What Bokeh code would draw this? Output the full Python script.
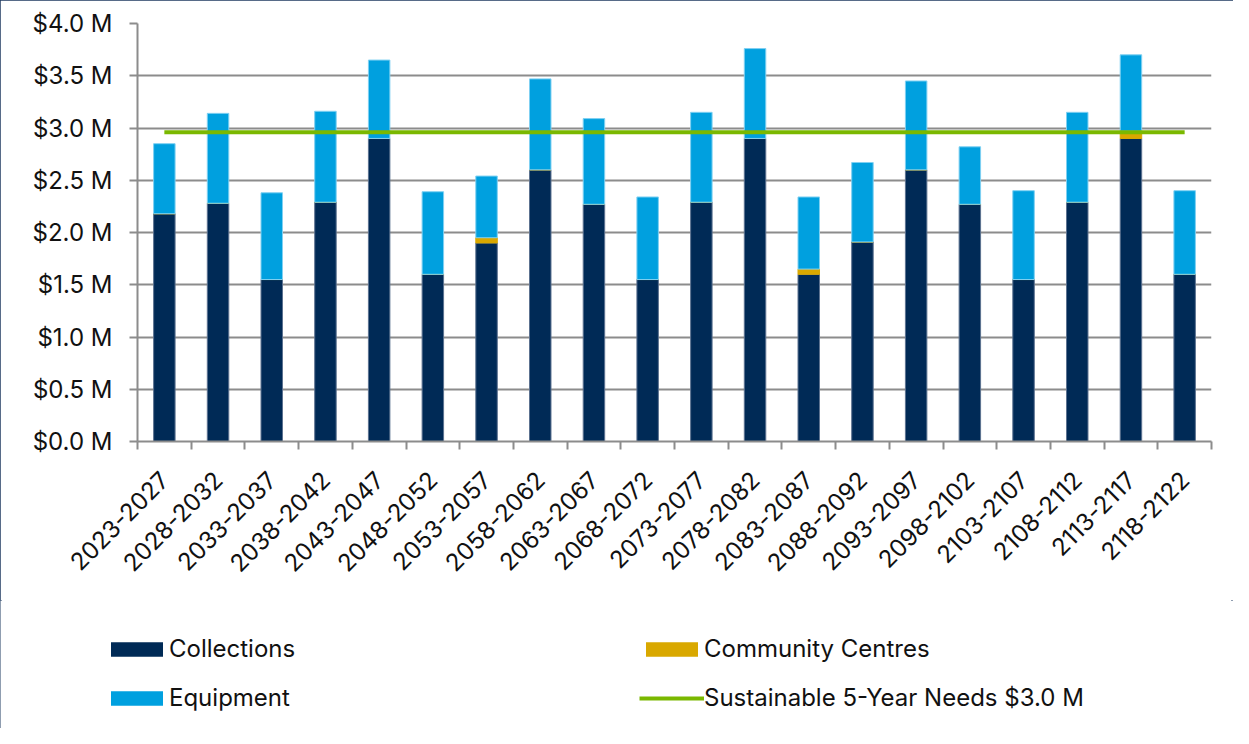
import numpy as np
from bokeh.plotting import figure
from bokeh.layouts import column
from bokeh.models import (Range1d, FixedTicker, PrintfTickFormatter, Legend,
                          LegendItem, ColumnDataSource)
from bokeh.embed import file_html
from bokeh.resources import INLINE

# ---- data (values in $ millions) ----
periods = ["2023-2027", "2028-2032", "2033-2037", "2038-2042", "2043-2047",
           "2048-2052", "2053-2057", "2058-2062", "2063-2067", "2068-2072",
           "2073-2077", "2078-2082", "2083-2087", "2088-2092", "2093-2097",
           "2098-2102", "2103-2107", "2108-2112", "2113-2117", "2118-2122"]
collections = [2.18, 2.28, 1.55, 2.29, 2.90, 1.60, 1.90, 2.60, 2.27, 1.55,
               2.29, 2.90, 1.60, 1.91, 2.60, 2.27, 1.55, 2.29, 2.90, 1.60]
community_centres = [0.0, 0.0, 0.0, 0.0, 0.0, 0.0, 0.05, 0.0, 0.0, 0.0,
                     0.0, 0.0, 0.05, 0.0, 0.0, 0.0, 0.0, 0.0, 0.07, 0.0]
equipment = [0.67, 0.86, 0.83, 0.87, 0.75, 0.79, 0.59, 0.87, 0.82, 0.79,
             0.86, 0.86, 0.69, 0.76, 0.85, 0.55, 0.85, 0.86, 0.73, 0.80]
sustainable_need = 2.96
y_ticks = [0.0, 0.5, 1.0, 1.5, 2.0, 2.5, 3.0, 3.5, 4.0]

FONT = "Inter"
GRID = "#8C8C8C"
TEXT = "#111111"
FILLS = ["#002A56", "#D9A800", "#00A0DF"]
EDGES = ["#5C7290", "#D9A800", "#7FD0F2"]
NEED_COLOR = "#7AB800"

n = len(periods)
xpos = [i + 0.5 for i in range(n)]
src = ColumnDataSource(dict(x=xpos, collections=collections,
                            community=community_centres, equipment=equipment))
stack_cols = ["collections", "community", "equipment"]

W = 1233
MAIN_H = 600
LEG_H = 128

p = figure(width=W, height=MAIN_H, x_range=Range1d(0, n),
           y_range=Range1d(0, y_ticks[-1]), output_backend="svg",
           toolbar_location=None, min_border_left=137, min_border_right=22,
           min_border_top=23, min_border_bottom=159)
p.outline_line_color = None
p.frame_align = False

p.vbar_stack(stack_cols, x="x", width=0.4, source=src,
             fill_color=FILLS, line_color=EDGES, line_width=1)
p.line(x=[xpos[0], xpos[-1]], y=[sustainable_need, sustainable_need],
       line_color=NEED_COLOR, line_width=4)

# x axis
xa = p.xaxis[0]
xa.ticker = FixedTicker(ticks=xpos, minor_ticks=list(range(n + 1)))
xa.major_label_overrides = {float(x): lab for x, lab in zip(xpos, periods)}
xa.major_label_orientation = np.pi / 4
xa.major_tick_line_color = None
xa.major_tick_out = 8
xa.major_tick_in = 0
xa.minor_tick_line_color = GRID
xa.minor_tick_line_width = 2
xa.minor_tick_out = 8
xa.minor_tick_in = 0
xa.axis_line_color = GRID
xa.axis_line_width = 2
xa.major_label_text_font = FONT
xa.major_label_text_font_size = "24px"
xa.major_label_text_color = TEXT
xa.major_label_standoff = 26

# y axis
ya = p.yaxis[0]
ya.ticker = FixedTicker(ticks=y_ticks)
ya.formatter = PrintfTickFormatter(format="$%.1f M")
ya.major_tick_out = 8
ya.major_tick_in = 0
ya.major_tick_line_color = GRID
ya.major_tick_line_width = 2
ya.minor_tick_line_color = None
ya.axis_line_color = GRID
ya.axis_line_width = 2
ya.major_label_text_font = FONT
ya.major_label_text_font_size = "24px"
ya.major_label_text_color = TEXT
ya.major_label_standoff = 17

p.xgrid.visible = False
p.ygrid.ticker = FixedTicker(ticks=y_ticks)
p.ygrid.grid_line_color = GRID
p.ygrid.grid_line_width = 2

# ---- legend strip (same data; value range chosen so marks stay out of view) ----
lf = figure(width=W, height=LEG_H, x_range=Range1d(0, n), y_range=Range1d(100, 101),
            output_backend="svg", toolbar_location=None, min_border=0,
            x_axis_location=None, y_axis_location=None)
lf.outline_line_color = None
lf.frame_align = False
lf.grid.visible = False
lbars = lf.vbar_stack(stack_cols, x="x", width=0.4, source=src,
                      fill_color=FILLS, line_color=FILLS, line_width=0)
lline = lf.line(x=[xpos[0], xpos[-1]], y=[sustainable_need, sustainable_need],
                line_color=NEED_COLOR, line_width=4)


def make_legend(items, loc):
    return Legend(items=items, location=loc, orientation="vertical",
                  glyph_width=65, glyph_height=18, label_height=28,
                  label_standoff=0, spacing=20, padding=0, margin=0,
                  border_line_color=None, background_fill_alpha=0,
                  label_text_font=FONT, label_text_font_size="24px",
                  label_text_color=TEXT)


lf.add_layout(make_legend([LegendItem(label="Collections", renderers=[lbars[0]]),
                           LegendItem(label="Equipment", renderers=[lbars[2]])],
                          (104, 16)))
lf.add_layout(make_legend([LegendItem(label="Community Centres", renderers=[lbars[1]]),
                           LegendItem(label="Sustainable 5-Year Needs $3.0 M",
                                      renderers=[lline])],
                          (639, 16)))

layout = column(p, lf, spacing=0)
layout.styles = {"outline": "2px solid #1F3A60", "outline-offset": "-2px"}

open("out.html", "w").write(file_html(layout, INLINE))
